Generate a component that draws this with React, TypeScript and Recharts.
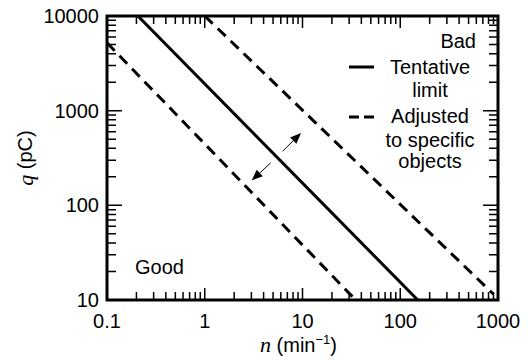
import { LineChart, Line, XAxis, YAxis, Legend, ReferenceLine, ReferenceArea, Label } from 'recharts';

// tentative limit (solid)
const limitN = [0.207, 151];
const limitQ = [10000, 10];
// adjusted limits (dashed)
const lowerN = [0.1, 35];
const lowerQ = [5200, 10];
const upperN = [1, 900];
const upperQ = [10000, 11.5];

// arrows between the limits
const arrowUp = [{ n: 6.27, q: 373 }, { n: 9.66, q: 582 }];
const arrowDown = [{ n: 4.73, q: 281 }, { n: 3.02, q: 183 }];

const xDecades = [0.1, 1, 10, 100, 1000];
const yDecades = [10, 100, 1000, 10000];
const legendText = [['Tentative', 'limit'], ['Adjusted', 'to specific', 'objects']];

const FONT = "'Liberation Sans', Arial, sans-serif";
const SERIF = "'Liberation Serif', 'Times New Roman', serif";

// interior tick positions (minor 2..9 of each decade plus inner decades)
const innerTicks = (decades: number[]) => {
  const out: number[] = [];
  decades.forEach((d, i) => {
    if (i > 0 && i < decades.length - 1) out.push(d);
    if (i < decades.length - 1) for (let k = 2; k <= 9; k++) out.push(+(d * k).toPrecision(3));
  });
  return out;
};
const xMarks = innerTicks(xDecades);
const yMarks = innerTicks(yDecades);

const toRows = (ns: number[], qs: number[]) => ns.map((n, i) => ({ n, q: qs[i] }));

const isDecade = (v: number) => Math.abs(Math.log10(v) - Math.round(Math.log10(v))) < 1e-6;

const BottomLabel = (props: any) => {
  const { x, y, payload } = props;
  return (
    <text x={x} y={y + 28} textAnchor="middle" fontFamily={FONT} fontSize={20} fill="#000">
      {String(payload.value)}
    </text>
  );
};

const LeftLabel = (props: any) => {
  const { x, y, payload } = props;
  return (
    <text x={x - 8} y={y + 7} textAnchor="end" fontFamily={FONT} fontSize={20} fill="#000">
      {String(payload.value)}
    </text>
  );
};

// inward tick marks at both ends of a full-height / full-width reference line
const xTickShape = (major: boolean) => (p: any) => {
  const { x1, y1, y2 } = p;
  const len = major ? 12 : 8;
  const top = Math.min(y1, y2);
  const bot = Math.max(y1, y2);
  return (
    <path d={`M${x1},${bot}V${bot - len}M${x1},${top}V${top + len}`} stroke="#000" strokeWidth={1.5} fill="none" />
  );
};

const yTickShape = (major: boolean) => (p: any) => {
  const { x1, x2, y1 } = p;
  const len = major ? 15 : 9;
  const left = Math.min(x1, x2);
  const right = Math.max(x1, x2);
  return (
    <path d={`M${left},${y1}H${left + len}M${right},${y1}H${right - len}`} stroke="#000" strokeWidth={1.5} fill="none" />
  );
};

const YTitle = ({ viewBox }: any) => {
  const cx = viewBox.x + 25;
  const cy = viewBox.y + viewBox.height / 2;
  return (
    <text x={cx} y={cy} transform={`rotate(-90, ${cx}, ${cy})`} textAnchor="middle" dominantBaseline="central" fontFamily={FONT} fontSize={20} fill="#000">
      <tspan fontFamily={SERIF} fontStyle="italic" fontSize={22}>q</tspan> (pC)
    </text>
  );
};

const XTitle = ({ viewBox }: any) => {
  const cx = viewBox.x + viewBox.width / 2 - 4;
  return (
    <text x={cx} y={viewBox.y + 52} textAnchor="middle" fontFamily={FONT} fontSize={20} fill="#000">
      <tspan fontFamily={SERIF} fontStyle="italic" fontSize={22}>n</tspan> (min
      <tspan dy={-8} fontSize={13}>−1</tspan>
      <tspan dy={8}>)</tspan>
    </text>
  );
};

const Arrow = (props: any) => {
  const { x1, y1, x2, y2 } = props;
  const a = Math.atan2(y2 - y1, x2 - x1);
  const len = 11;
  const w = 4.5;
  const bx = x2 - len * Math.cos(a);
  const by = y2 - len * Math.sin(a);
  const px = -Math.sin(a) * w;
  const py = Math.cos(a) * w;
  return (
    <g>
      <line x1={x1} y1={y1} x2={bx} y2={by} stroke="#000" strokeWidth={1} />
      <polygon points={`${x2},${y2} ${bx + px},${by + py} ${bx - px},${by - py}`} fill="#000" />
    </g>
  );
};

const LegendBox = () => (
  <svg width={160} height={140} style={{ overflow: 'visible' }}>
    <line x1={9} y1={27} x2={34} y2={27} stroke="#000" strokeWidth={3} />
    <text x={90} y={34} textAnchor="middle" fontFamily={FONT} fontSize={20}>{legendText[0][0]}</text>
    <text x={90} y={57} textAnchor="middle" fontFamily={FONT} fontSize={20}>{legendText[0][1]}</text>
    <line x1={9} y1={77} x2={34} y2={77} stroke="#000" strokeWidth={3} strokeDasharray="10 5" />
    <text x={90} y={83} textAnchor="middle" fontFamily={FONT} fontSize={20}>{legendText[1][0]}</text>
    <text x={90} y={107} textAnchor="middle" fontFamily={FONT} fontSize={20}>{legendText[1][1]}</text>
    <text x={90} y={128} textAnchor="middle" fontFamily={FONT} fontSize={20}>{legendText[1][2]}</text>
  </svg>
);

const App = () => {
  return (
    <div style={{ position: 'absolute', left: 0, top: 0, width: 528, height: 360, background: '#fff' }}>
      <LineChart width={528} height={360} margin={{ top: 16, right: 30, bottom: 0, left: 0 }}>
        <XAxis xAxisId="b" dataKey="n" type="number" scale="log" domain={[0.1, 1000]} allowDataOverflow
          ticks={xDecades} interval={0} height={60} tickSize={0} tickMargin={0} tickLine={false}
          axisLine={false} tick={BottomLabel} label={<Label content={XTitle} />} />
        <YAxis yAxisId="l" dataKey="q" type="number" scale="log" domain={[10, 10000]} allowDataOverflow
          ticks={yDecades} interval={0} width={107} tickSize={0} tickMargin={0} tickLine={false}
          axisLine={false} tick={LeftLabel} label={<Label content={YTitle} />} />
        {xMarks.map((v) => (
          <ReferenceLine key={`x${v}`} xAxisId="b" yAxisId="l" x={v} shape={xTickShape(isDecade(v))} />
        ))}
        {yMarks.map((v) => (
          <ReferenceLine key={`y${v}`} xAxisId="b" yAxisId="l" y={v} shape={yTickShape(isDecade(v))} />
        ))}
        <ReferenceArea xAxisId="b" yAxisId="l" x1={0.1} x2={1000} y1={10} y2={10000}
          fill="none" fillOpacity={0} stroke="#000" strokeWidth={3} strokeOpacity={1} />
        <Line xAxisId="b" yAxisId="l" data={toRows(limitN, limitQ)} dataKey="q" name="Tentative limit"
          stroke="#000" strokeWidth={3} dot={false} isAnimationActive={false} />
        <Line xAxisId="b" yAxisId="l" data={toRows(lowerN, lowerQ)} dataKey="q" name="Adjusted to specific objects"
          stroke="#000" strokeWidth={3} strokeDasharray="11 7" dot={false} isAnimationActive={false} />
        <Line xAxisId="b" yAxisId="l" data={toRows(upperN, upperQ)} dataKey="q" legendType="none"
          stroke="#000" strokeWidth={3} strokeDasharray="11 7" dot={false} isAnimationActive={false} />
        <ReferenceLine xAxisId="b" yAxisId="l" segment={[{ x: arrowUp[0].n, y: arrowUp[0].q }, { x: arrowUp[1].n, y: arrowUp[1].q }]} shape={Arrow} />
        <ReferenceLine xAxisId="b" yAxisId="l" segment={[{ x: arrowDown[0].n, y: arrowDown[0].q }, { x: arrowDown[1].n, y: arrowDown[1].q }]} shape={Arrow} />
        <Legend layout="horizontal" verticalAlign="middle" align="center" content={LegendBox}
          wrapperStyle={{ left: 340, top: 40, width: 160, height: 140 }} />
        <text x={476} y={48} textAnchor="end" fontFamily={FONT} fontSize={20} fill="#000">Bad</text>
        <text x={135} y={274} fontFamily={FONT} fontSize={20} fill="#000">Good</text>
      </LineChart>
    </div>
  );
};

export default App;
